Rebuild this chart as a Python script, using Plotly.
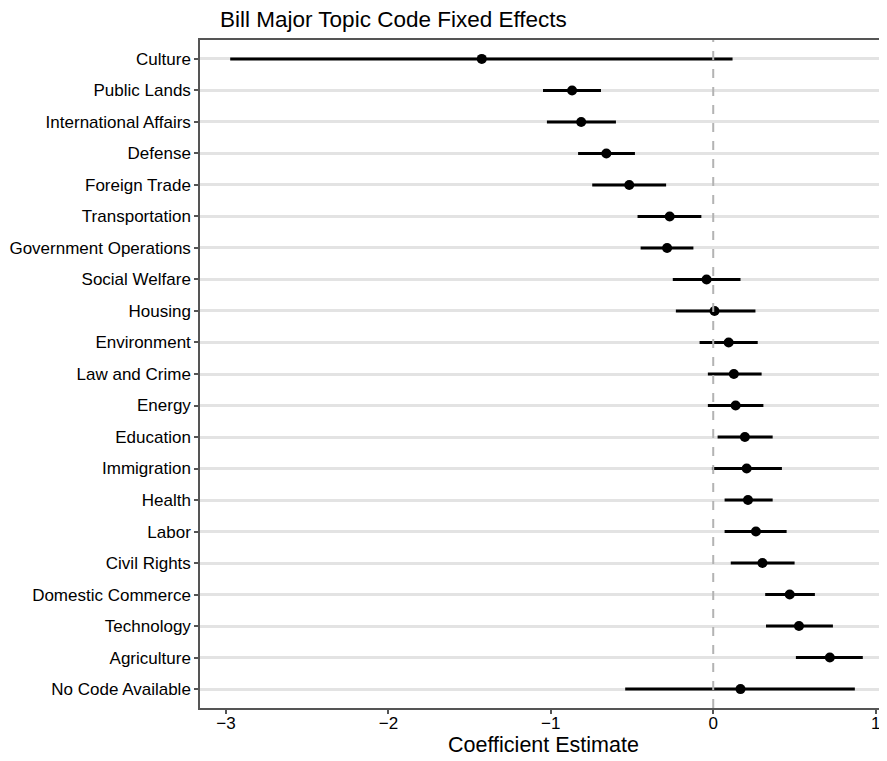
import plotly.graph_objects as go

topics = ["Culture", "Public Lands", "International Affairs", "Defense", "Foreign Trade",
          "Transportation", "Government Operations", "Social Welfare", "Housing",
          "Environment", "Law and Crime", "Energy", "Education", "Immigration", "Health",
          "Labor", "Civil Rights", "Domestic Commerce", "Technology", "Agriculture",
          "No Code Available"]
estimate = [-1.425, -0.869, -0.813, -0.658, -0.517, -0.268, -0.284, -0.041, 0.008,
            0.095, 0.127, 0.138, 0.195, 0.206, 0.214, 0.263, 0.303, 0.471, 0.528,
            0.718, 0.168]
lower = [-2.974, -1.048, -1.024, -0.832, -0.745, -0.466, -0.447, -0.249, -0.230,
         -0.084, -0.033, -0.033, 0.027, -0.008, 0.070, 0.070, 0.108, 0.320, 0.325,
         0.509, -0.542]
upper = [0.119, -0.691, -0.599, -0.482, -0.290, -0.073, -0.122, 0.168, 0.260,
         0.274, 0.298, 0.309, 0.366, 0.423, 0.366, 0.452, 0.501, 0.626, 0.737,
         0.921, 0.872]
x_ticks = [-3, -2, -1, 0, 1]
x_tick_text = ["\u22123", "\u22122", "\u22121", "0", "1"]

err_plus = [u - e for u, e in zip(upper, estimate)]
err_minus = [e - l for e, l in zip(estimate, lower)]

fig = go.Figure()
fig.add_trace(go.Scatter(
    x=estimate, y=topics, mode="markers",
    marker=dict(color="black", size=10),
    error_x=dict(type="data", symmetric=False, array=err_plus, arrayminus=err_minus,
                 color="black", thickness=3, width=0),
    showlegend=False,
))

fig.add_vline(x=0, line=dict(color="#b3b3b3", width=2, dash="dash"))

# The page has an 8px body margin, so the figure is sized to fill the window.
W, H = 879, 753
font_family = "Liberation Sans, Arial, sans-serif"
fig.update_layout(
    width=W, height=H,
    margin=dict(l=192, r=0, t=32, b=53, autoexpand=False),
    paper_bgcolor="white", plot_bgcolor="white",
    font=dict(family=font_family, color="black"),
    title=dict(text="Bill Major Topic Code Fixed Effects", x=212 / W, xanchor="left",
               y=1 - 11 / H, yanchor="middle",
               font=dict(size=22.5, family=font_family, color="black")),
    xaxis=dict(range=[-3.16, 1.07], tickvals=x_ticks, ticktext=x_tick_text,
               automargin=False,
               showgrid=False, zeroline=False, showline=True, linecolor="#555555",
               linewidth=1.5, mirror=True, ticks="outside", ticklen=4, tickwidth=1.5,
               tickcolor="#555555", tickfont=dict(size=17, color="black"),
               ticklabelstandoff=-5,
               title=dict(text="Coefficient Estimate", font=dict(size=21.5, color="black"),
                          standoff=3)),
    yaxis=dict(categoryorder="array", categoryarray=topics, range=[20.6, -0.6],
               automargin=False,
               showgrid=True, gridcolor="#e3e3e3", gridwidth=2.5, zeroline=False,
               showline=True, linecolor="#555555", linewidth=1.5,
               ticks="outside", ticklen=4, tickwidth=1.5, tickcolor="#555555",
               tickfont=dict(size=17, color="black")),
)

fig.write_html("out.html")
